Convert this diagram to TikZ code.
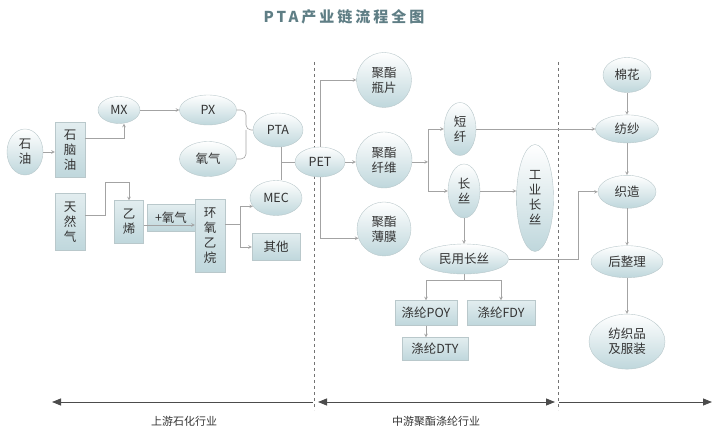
\documentclass[tikz,border=0pt]{standalone}
\usepackage{fontspec}
\setmainfont{Noto Sans CJK SC}
\usetikzlibrary{positioning,shapes.geometric,arrows.meta,calc}

\definecolor{txt}{HTML}{333333}
\definecolor{linegray}{HTML}{A3A3A3}
\definecolor{rim}{HTML}{B9C8CB}
\definecolor{fillbot}{HTML}{BFD7DC}
\definecolor{titlecol}{HTML}{5F7E85}

\begin{document}
\begin{tikzpicture}[%
    x=1pt, y=-1pt,
    >=stealth,
    every node/.style={font=\fontsize{12.5}{15}\selectfont, text=txt, align=center, inner sep=0pt},
    bubble/.style={ellipse, draw=rim, top color=white, bottom color=fillbot},
    block/.style={rectangle, draw=rim, top color=white!55!fillbot, bottom color=fillbot},
    link/.style={draw=linegray, line width=0.6pt},
    span/.style={draw=black!70, line width=0.8pt}
]
\useasboundingbox (0,0) rectangle (720,435);

% section dividers (behind the nodes)
\draw[dashed, black!55, line width=0.6pt] (314,62) -- (314,410);
\draw[dashed, black!55, line width=0.6pt] (558,62) -- (558,410);

% title
\node[font=\fontsize{15}{18}\selectfont\bfseries\addfontfeatures{LetterSpace=20}, text=titlecol]
    (title) at (344,17) {PTA产业链流程全图};

% upstream
\node[bubble, minimum width=36, minimum height=46] (oil) at (25,152) {石\\油};
\node[block, minimum width=30, minimum height=55] (naphtha) at (70,150) {石\\脑\\油};
\node[bubble, minimum width=42, minimum height=27] (mx) at (119,110) {MX};
\node[bubble, minimum width=57, minimum height=30] (px) at (208,110) {PX};
\node[bubble, minimum width=57, minimum height=35] (oxygen) at (208,159) {氧气};
\node[bubble, minimum width=50, minimum height=34] (pta) at (278,130) {PTA};
\node[bubble, minimum width=50, minimum height=30] (pet) at (320,162) {PET};
\node[bubble, minimum width=52, minimum height=35] (mec) at (276,198) {MEC};
\node[block, minimum width=48, minimum height=27] (other) at (276,247) {其他};
\node[block, minimum width=30, minimum height=57] (gas) at (70,222) {天\\然\\气};
\node[block, minimum width=29, minimum height=43] (ethylene) at (129,222) {乙\\烯};
\node[block, minimum width=48, minimum height=27] (plusoxy) at (171,218) {+氧气};
\node[block, minimum width=30, minimum height=73] (eo) at (210,236) {环\\氧\\乙\\烷};

% midstream
\node[bubble, minimum size=55] (bottle) at (384,80) {聚酯\\瓶片};
\node[bubble, minimum size=56] (fiber) at (384,160) {聚酯\\纤维};
\node[bubble, minimum size=54] (film) at (384,229) {聚酯\\薄膜};
\node[bubble, minimum width=32, minimum height=53] (staple) at (460,129) {短\\纤};
\node[bubble, minimum width=32, minimum height=54] (filament) at (464,191) {长\\丝};
\node[bubble, minimum width=37, minimum height=107] (industrial) at (535,198) {工\\业\\长\\丝};
\node[bubble, minimum width=89, minimum height=30] (civil) at (464,259) {民用长丝};
\node[block, minimum width=62, minimum height=25] (poy) at (426,313) {涤纶POY};
\node[block, minimum width=68, minimum height=25] (fdy) at (501,313) {涤纶FDY};
\node[block, minimum width=66, minimum height=23] (dty) at (435,349) {涤纶DTY};

% downstream column
\node[bubble, minimum width=48, minimum height=35] (cotton) at (627,75) {棉花};
\node[bubble, minimum width=63, minimum height=28, below=22pt of cotton] (spinning) {纺纱};
\node[bubble, minimum width=58, minimum height=33, below=32pt of spinning] (weaving) {织造};
\node[bubble, minimum width=72, minimum height=32, below=37pt of weaving] (finishing) {后整理};
\node[bubble, minimum width=76, minimum height=55, below=36pt of finishing] (apparel) {纺织品\\及服装};

% joints
\coordinate (brace) at (246,130);
\coordinate (ptajoin) at (281,162);
\coordinate (gasbend) at (105,182);
\coordinate (eosplit) at (240,224);
\coordinate (fiberbus) at (428,162);
\coordinate (civilbus) at (464,280);
\coordinate (weavebend) at (578,259);

% upstream edges
\draw[link, ->] (oil.east) -- (oil.east -| naphtha.west);
\draw[link, ->] ([yshift=12pt]naphtha.east) -| ([xshift=5pt]mx.south);
\draw[link, ->] (mx) -- (px);
\draw[link, rounded corners=5pt] (px.east) -| (brace) -- (pta.west);
\draw[link, rounded corners=5pt] (oxygen.east) -| (brace);
\draw[link] (ptajoin |- pta.south) -- (ptajoin |- mec.north);
\draw[link] (ptajoin) -- (pet.west);
\draw[link, ->] ([yshift=7pt]gas.east) -| (gasbend) -| (ethylene.north);
\draw[link, ->] ($(ethylene.east)+(0,3)$) -- ($(ethylene.east -| eo.west)+(0,3)$);
\draw[link] (eosplit -| eo.east) -- (eosplit);
\draw[link, ->] (eosplit) |- (mec.200);
\draw[link, ->] (eosplit) |- (other.west);

% midstream edges
\draw[link, ->] (pet.north) |- (bottle.west);
\draw[link, ->] (pet.east) -- (pet.east -| fiber.west);
\draw[link, ->] (pet.south) |- (film.200);
\draw[link, ->] (fiber.east |- fiberbus) -- (fiberbus);
\draw[link, ->] (fiberbus) |- (staple.west);
\draw[link, ->] (fiberbus) |- (filament.west);
\draw[link, ->] (filament.east) -- (filament.east -| industrial.west);
\draw[link, ->] (filament.south) -- (civil.north);
\draw[link] (civil.south) -- (civilbus);
\draw[link, ->] (civilbus) -| (poy.north);
\draw[link, ->] (civilbus) -| (fdy.north);
\draw[link, ->] (poy.south) -- (poy.south |- dty.north);

% into downstream
\draw[link, ->] (staple.east) -- (staple.east -| spinning.west);
\draw[link, ->] (civil.east) -- (weavebend) |- (weaving.west);
\draw[link, ->] (cotton) -- (spinning);
\draw[link, ->] (spinning) -- (weaving);
\draw[link, ->] (weaving) -- (finishing);
\draw[link, ->] (finishing) -- (apparel);

% industry spans
\coordinate (upL) at (52,402);
\coordinate (upR) at (313,402);
\coordinate (midL) at (318,402);
\coordinate (midR) at (555,402);
\coordinate (downL) at (559,402);
\coordinate (downR) at (712,402);
\draw[span, {Triangle[length=9pt,width=7pt]}-] (upL) -- (upR);
\draw[span, {Triangle[length=9pt,width=7pt]}-{Triangle[length=9pt,width=7pt]}] (midL) -- (midR);
\draw[span, -{Triangle[length=9pt,width=7pt]}] (downL) -- (downR);
\node[font=\fontsize{11}{13}\selectfont] (upstream) at (184,421) {上游石化行业};
\node[font=\fontsize{11}{13}\selectfont] (midstream) at (436,421) {中游聚酯涤纶行业};

\end{tikzpicture}
\end{document}
